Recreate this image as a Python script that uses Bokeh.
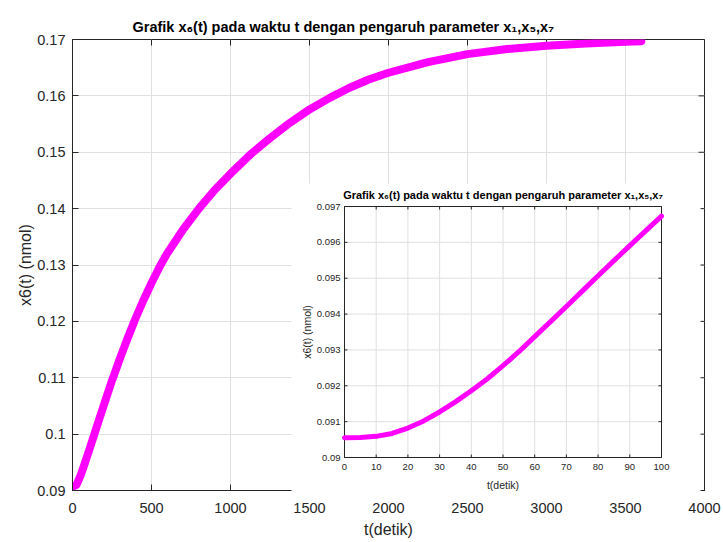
import math
from bokeh.plotting import figure
from bokeh.models import FixedTicker, Title, Range1d
from bokeh.core.properties import value
from bokeh.embed import file_html
from bokeh.resources import INLINE

# ---------------- data ----------------
main_t = [0, 25, 50, 75, 100, 150, 200, 250, 300, 350, 400, 450, 500, 550, 600,
          700, 800, 900, 1000, 1125, 1250, 1375, 1500, 1625, 1750, 1875, 2000,
          2250, 2500, 2750, 3000, 3250, 3500, 3600]
main_x6 = [0.0906, 0.0910, 0.0926, 0.0946, 0.0967, 0.1010, 0.1053, 0.1095,
           0.1134, 0.1171, 0.1206, 0.1238, 0.1268, 0.1296, 0.1321, 0.1363,
           0.1400, 0.1433, 0.1462, 0.1496, 0.1525, 0.1552, 0.1576, 0.1596,
           0.1614, 0.1629, 0.1641, 0.1660, 0.1674, 0.1683, 0.1689, 0.1693,
           0.1696, 0.1697]

inset_t = [0, 5, 10, 15, 20, 25, 30, 35, 40, 45, 50, 55, 60, 65, 70, 75,
           80, 85, 90, 95, 100]
inset_x6 = [0.09055, 0.09056, 0.09059, 0.09067, 0.09082, 0.09102, 0.09127,
            0.09155, 0.09186, 0.09219, 0.09256, 0.09295, 0.09337, 0.09379,
            0.09421, 0.09464, 0.09507, 0.09549, 0.09591, 0.09632, 0.09673]

main_xticks = [0, 500, 1000, 1500, 2000, 2500, 3000, 3500, 4000]
main_xlabels = ["0", "500", "1000", "1500", "2000", "2500", "3000", "3500", "4000"]
main_yticks = [0.09, 0.10, 0.11, 0.12, 0.13, 0.14, 0.15, 0.16, 0.17]
main_ylabels = ["0.09", "0.1", "0.11", "0.12", "0.13", "0.14", "0.15", "0.16", "0.17"]

inset_xticks = [0, 10, 20, 30, 40, 50, 60, 70, 80, 90, 100]
inset_xlabels = ["0", "10", "20", "30", "40", "50", "60", "70", "80", "90", "100"]
inset_yticks = [0.090, 0.091, 0.092, 0.093, 0.094, 0.095, 0.096, 0.097]
inset_ylabels = ["0.09", "0.091", "0.092", "0.093", "0.094", "0.095", "0.096", "0.097"]

title_text = "Grafik x\u2086(t) pada waktu t dengan pengaruh parameter x\u2081,x\u2085,x\u2087"
xlabel = "t(detik)"
ylabel = "x6(t) (nmol)"

# ---------------- style / layout ----------------
FONT = "Liberation Sans"
AX = "#262626"
GRID = "#e0e0e0"
MAG = "#FF00FF"

XR = (0, 4000)
YR = (0.09, 0.17)
IXR = (0, 100)
IYR = (0.090, 0.097)

W, H = 723, 542
# main frame in pixels
FX0, FX1, FY0, FY1 = 72, 704, 39, 490
# inset frame and its white panel in pixels
IX0, IX1, IY0, IY1 = 344, 661, 206, 457
BX0, BX1, BY0, BY1 = 291, 700, 183, 496


def mx(px):
    return XR[0] + (px - FX0) / (FX1 - FX0) * (XR[1] - XR[0])


def my(py):
    return YR[1] - (py - FY0) / (FY1 - FY0) * (YR[1] - YR[0])


p = figure(width=W, height=H, x_range=Range1d(*XR), y_range=Range1d(*YR),
           output_backend="svg", toolbar_location=None,
           min_border_left=FX0, min_border_right=W - FX1, min_border_top=FY0,
           min_border_bottom=H - FY1)
p.background_fill_color = "white"
p.border_fill_color = "white"
p.outline_line_color = AX


def style_axis(ax, ticks, labels, size, tick_len, standoff, label, lsize, lstand):
    ax.ticker = FixedTicker(ticks=ticks)
    ax.major_label_overrides = {t: l for t, l in zip(ticks, labels)}
    ax.major_tick_in = tick_len
    ax.major_tick_out = 0
    ax.minor_tick_in = 0
    ax.minor_tick_out = 0
    ax.axis_line_color = AX
    ax.major_tick_line_color = AX
    ax.major_label_text_font = FONT
    ax.major_label_text_color = AX
    ax.major_label_text_font_size = size
    ax.major_label_standoff = standoff
    ax.axis_label = label
    ax.axis_label_text_font = FONT
    ax.axis_label_text_font_size = lsize
    ax.axis_label_text_font_style = "normal"
    ax.axis_label_text_color = AX
    ax.axis_label_standoff = lstand


style_axis(p.xaxis[0], main_xticks, main_xlabels, "14.5px", 6, 12, xlabel, "16px", 5)
style_axis(p.yaxis[0], main_yticks, main_ylabels, "14.5px", 6, 7, ylabel, "16px", 0)
p.xgrid.ticker = FixedTicker(ticks=main_xticks)
p.ygrid.ticker = FixedTicker(ticks=main_yticks)
p.xgrid.grid_line_color = GRID
p.ygrid.grid_line_color = GRID

p.title = Title(text=title_text, align="left", offset=60, text_font=FONT,
                text_font_size="14.5px", text_font_style="bold", text_color="black")

# top / right inward ticks of the main box
mdx = 6 / (FX1 - FX0) * (XR[1] - XR[0])
mdy = 6 / (FY1 - FY0) * (YR[1] - YR[0])
p.segment(x0=main_xticks, y0=[YR[1]] * len(main_xticks), x1=main_xticks,
          y1=[YR[1] - mdy] * len(main_xticks), line_color=AX, line_width=1)
p.segment(x0=[XR[1]] * len(main_yticks), y0=main_yticks,
          x1=[XR[1] - mdx] * len(main_yticks), y1=main_yticks,
          line_color=AX, line_width=1)

p.line(main_t, main_x6, line_width=8, line_color=MAG, line_join="round",
       line_cap="round")

# ---------------- inset ----------------
LV = "overlay"
p.quad(left=[mx(BX0)], right=[mx(BX1)], top=[my(BY0)], bottom=[my(BY1)],
       fill_color="white", line_color=None, level=LV)

sub = p.subplot(x_source=Range1d(*IXR), y_source=Range1d(*IYR),
                x_target=Range1d(mx(IX0), mx(IX1)),
                y_target=Range1d(my(IY1), my(IY0)))

nx, ny = len(inset_xticks), len(inset_yticks)
# grid
sub.segment(x0=inset_xticks, y0=[IYR[0]] * nx, x1=inset_xticks, y1=[IYR[1]] * nx,
            line_color=GRID, line_width=1, level=LV)
sub.segment(x0=[IXR[0]] * ny, y0=inset_yticks, x1=[IXR[1]] * ny, y1=inset_yticks,
            line_color=GRID, line_width=1, level=LV)
# box
sub.quad(left=[IXR[0]], right=[IXR[1]], bottom=[IYR[0]], top=[IYR[1]],
         fill_color=None, line_color=AX, line_width=1, level=LV)
# inward ticks
idx = 3 / (IX1 - IX0) * (IXR[1] - IXR[0])
idy = 3 / (IY1 - IY0) * (IYR[1] - IYR[0])
sub.segment(x0=inset_xticks, y0=[IYR[0]] * nx, x1=inset_xticks,
            y1=[IYR[0] + idy] * nx, line_color=AX, level=LV)
sub.segment(x0=inset_xticks, y0=[IYR[1]] * nx, x1=inset_xticks,
            y1=[IYR[1] - idy] * nx, line_color=AX, level=LV)
sub.segment(x0=[IXR[0]] * ny, y0=inset_yticks, x1=[IXR[0] + idx] * ny,
            y1=inset_yticks, line_color=AX, level=LV)
sub.segment(x0=[IXR[1]] * ny, y0=inset_yticks, x1=[IXR[1] - idx] * ny,
            y1=inset_yticks, line_color=AX, level=LV)

sub.line(inset_t, inset_x6, line_width=5, line_color=MAG, line_join="round",
         line_cap="round", level=LV)

# tick labels
sub.text(x=inset_xticks, y=[IYR[0]] * nx, text=inset_xlabels,
         text_font=value(FONT), text_font_size="9.5px", text_color=AX,
         text_align="center", text_baseline="top", y_offset=6, level=LV)
sub.text(x=[IXR[0]] * ny, y=inset_yticks, text=inset_ylabels,
         text_font=value(FONT), text_font_size="9.5px", text_color=AX,
         text_align="right", text_baseline="middle", x_offset=-4, level=LV)
# axis labels
sub.text(x=[(IXR[0] + IXR[1]) / 2], y=[IYR[0]], text=[xlabel],
         text_font=value(FONT), text_font_size="10.5px", text_color=AX,
         text_align="center", text_baseline="top", y_offset=21, level=LV)
sub.text(x=[IXR[0]], y=[(IYR[0] + IYR[1]) / 2], text=[ylabel], angle=math.pi / 2,
         text_font=value(FONT), text_font_size="10.5px", text_color=AX,
         text_align="center", text_baseline="bottom", x_offset=-32, level=LV)
# inset title
sub.text(x=[(IXR[0] + IXR[1]) / 2], y=[IYR[1]], text=[title_text],
         text_font=value(FONT), text_font_size="11px", text_font_style="bold",
         text_color="black", text_align="center", text_baseline="bottom",
         y_offset=-6, level=LV)

open("out.html", "w").write(file_html(p, INLINE))
